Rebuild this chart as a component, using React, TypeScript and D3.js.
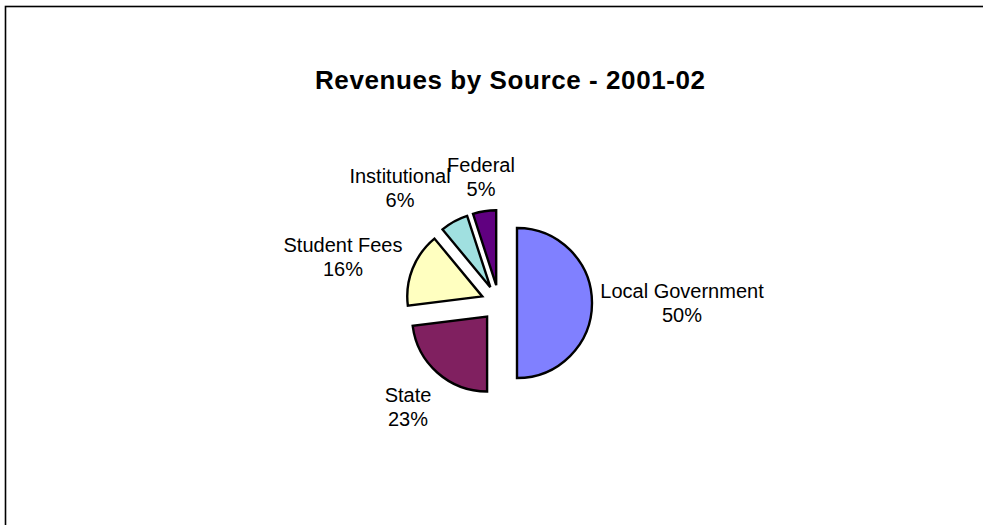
import * as d3 from 'd3';

const WIDTH = 983;
const HEIGHT = 525;

// slice data, clockwise from 12 o'clock
const sources = ['Local Government', 'State', 'Student Fees', 'Institutional', 'Federal'];
const shares = [50, 23, 16, 6, 5];
const colors = ['#8080FF', '#802060', '#FFFFC0', '#A0E0E0', '#600080'];

const CENTER = { x: 499, y: 303 };
const RADIUS = 75;
const EXPLODE = 18;
const LINE_H = 24;
// label anchor (centre x, first baseline) relative to the pie centre
const labelOffsets = [
  [183, -5],
  [-91, 99],
  [-156, -51],
  [-99, -120],
  [-18, -131],
];

const FONT = '"Liberation Sans", Arial, sans-serif';

export default function App() {
  const pie = d3
    .pie<number>()
    .sort(null)
    .value((d) => d);
  const arcs = pie(shares);
  const arc = d3.arc<d3.PieArcDatum<number>>().innerRadius(0).outerRadius(RADIUS);

  return (
    <svg
      width={WIDTH}
      height={HEIGHT}
      style={{ position: 'absolute', left: 0, top: 0, background: '#fff' }}
    >
      {/* chart area border, runs off the right and bottom */}
      <rect x={5.5} y={6.5} width={WIDTH + 10} height={HEIGHT + 10} fill="#fff" stroke="#000" strokeWidth={1.6} />

      <text
        x={510}
        y={89}
        textAnchor="middle"
        fontFamily={FONT}
        fontSize={26}
        fontWeight={700}
        textLength={390}
        lengthAdjust="spacing"
      >
        Revenues by Source - 2001-02
      </text>

      <g transform={`translate(${CENTER.x},${CENTER.y})`}>
        {arcs.map((a, i) => {
          const mid = (a.startAngle + a.endAngle) / 2;
          const dx = Math.sin(mid) * EXPLODE;
          const dy = -Math.cos(mid) * EXPLODE;
          return (
            <path
              key={sources[i]}
              d={arc(a) ?? ''}
              transform={`translate(${dx},${dy})`}
              fill={colors[i]}
              stroke="#000"
              strokeWidth={2.4}
            />
          );
        })}

        {arcs.map((a, i) => {
          const [lx, ly] = labelOffsets[i];
          return (
            <text
              key={sources[i]}
              x={lx}
              y={ly}
              textAnchor="middle"
              fontFamily={FONT}
              fontSize={20}
              fill="#000"
            >
              <tspan x={lx}>{sources[i]}</tspan>
              <tspan x={lx} dy={LINE_H}>
                {shares[i]}%
              </tspan>
            </text>
          );
        })}
      </g>
    </svg>
  );
}
